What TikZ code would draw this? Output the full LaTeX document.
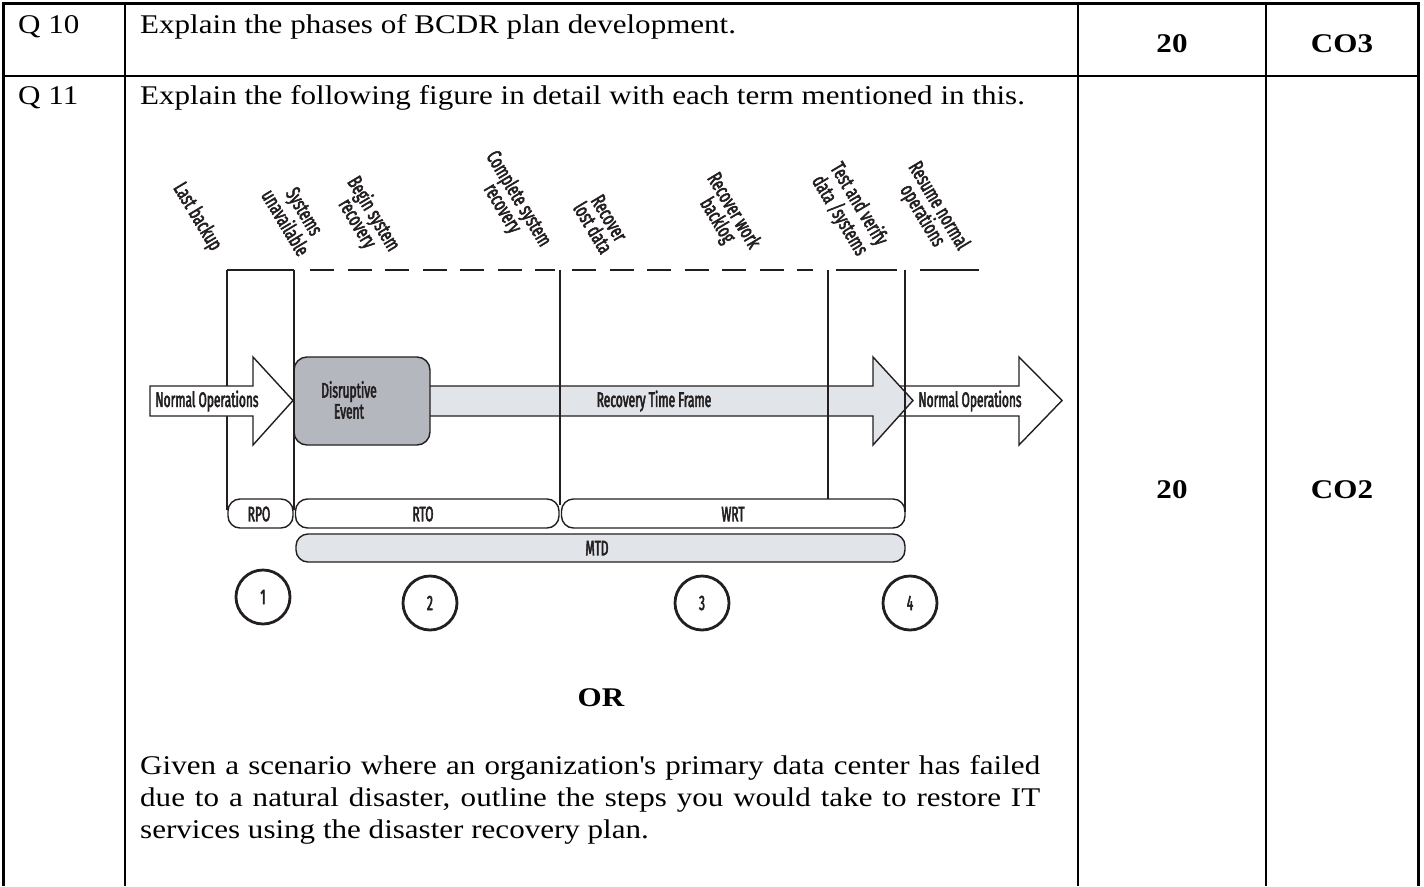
\documentclass[tikz,border=0pt]{standalone}
\usepackage{fontspec}
\setmainfont{Liberation Serif}[FakeStretch=1.15]
\newfontfamily\figsans{Fira Sans}[FakeStretch=0.57,FakeBold=2.5]
\newfontfamily\figsanstilt{Fira Sans}[FakeStretch=0.66,FakeBold=2.5]
\definecolor{figdark}{HTML}{231F20}
\definecolor{evtgray}{HTML}{B4B7BD}
\definecolor{flowgray}{HTML}{E1E4E8}

\tikzset{
  tabrule/.style={line width=2.7pt, black},
  qtext/.style={anchor=base west, inner sep=0pt, font=\fontsize{27}{32}\selectfont},
  qmark/.style={anchor=base, inner sep=0pt, font=\fontsize{27}{32}\selectfont\bfseries},
  pointline/.style={draw=figdark, line width=2.8pt},
  gapline/.style={pointline, dash pattern=on 24pt off 13.5pt},
  outline/.style={draw=figdark, line width=1.4pt, line join=miter},
  spanbox/.style={outline, rounded corners=12pt},
  pointlabel/.style={rotate=-59, align=center, inner sep=0pt, text=figdark, font=\figsanstilt\fontsize{21}{19}\selectfont},
  flowlabel/.style={inner sep=0pt, align=center, text=figdark, font=\figsans\fontsize{21}{21}\selectfont},
  phase/.style={circle, draw=figdark, line width=2.8pt, minimum size=54pt, inner sep=0pt, text=figdark, font=\figsans\fontsize{21}{21}\selectfont},
}

\begin{document}
\begin{tikzpicture}[x=1pt,y=-1pt]
\useasboundingbox (0,0) rectangle (1424,886);

% table
\draw[tabrule] (2,3.5) -- (1420,3.5);
\draw[tabrule] (2,76) -- (1420,76);
\foreach \cx in {3.5,125,1078,1266,1418.5}
  \draw[tabrule] (\cx,2.2) -- (\cx,886);

\node[qtext] (q10) at (18,33) {Q 10};
\node[qtext] (q10text) at (140,33) {Explain the phases of BCDR plan development.};
\node[qmark] (q10marks) at (1172,52) {20};
\node[qmark] (q10co) at (1342,52) {CO3};
\node[qtext] (q11) at (18,104) {Q 11};
\node[qtext] (q11text) at (140,104) {Explain the following figure in detail with each term mentioned in this.};
\node[qmark] (q11marks) at (1172,498) {20};
\node[qmark] (q11co) at (1342,498) {CO2};
\node[qmark] (ortext) at (601,706) {OR};
\node[qtext, text width=900pt, align=justify] (scenario) at (140,774)
  {Given a scenario where an organization\textquotesingle s primary data center has failed\linebreak
   due to a natural disaster, outline the steps you would take to restore IT\linebreak
   services using the disaster recovery plan.};

% time line
\draw[pointline] (227,270) -- (294,270);
\draw[gapline] (310,270) -- (555,270);
\draw[gapline] (572,270) -- (813,270);
\draw[pointline] (836,270) -- (897,270);
\draw[pointline] (920,270) -- (979,270);

\node[pointlabel] (lastbk) at (197,217) {Last backup};
\node[pointlabel] (sysdown) at (295,217) {Systems\\unavailable};
\node[pointlabel] (beginrec) at (365,219) {Begin system\\recovery};
\node[pointlabel] (donerec) at (510,204) {Complete system\\recovery};
\node[pointlabel] (lostdata) at (601,223) {Recover\\lost data};
\node[pointlabel] (backlog) at (725,216) {Recover work\\backlog};
\node[pointlabel] (verify) at (849,210) {Test and verify\\data /systems};
\node[pointlabel] (resume) at (930,211) {Resume normal\\operations};

% flow arrows
\draw[outline, fill=white] (890,386) -- (1019,386) -- (1019,357) -- (1062,400.5)
  -- (1019,445) -- (1019,416) -- (890,416) -- cycle;
\draw[outline, fill=flowgray] (420,386) -- (873,386) -- (873,357) -- (913,400.5)
  -- (873,445) -- (873,416) -- (420,416) -- cycle;
\draw[outline, fill=evtgray, rounded corners=13pt] (294,357) rectangle (430,445);

\draw[pointline] (294,270) -- (294,510);
\draw[pointline] (560,270) -- (560,505);
\draw[pointline] (828,270) -- (828,499);
\draw[pointline] (905,270) -- (905,512);
\draw[pointline] (227,270) -- (227,510);

\draw[outline, fill=white] (150,386) -- (253,386) -- (253,357) -- (293,400.5)
  -- (253,445) -- (253,416) -- (150,416) -- cycle;

\node[flowlabel] (normin) at (207,401) {Normal Operations};
\node[flowlabel] (event) at (349,400) {Disruptive\\Event};
\node[flowlabel] (rtf) at (654,401) {Recovery Time Frame};
\node[flowlabel] (normout) at (970,401) {Normal Operations};

% spans
\draw[spanbox] (228,499) rectangle (293,528);
\draw[spanbox] (295.5,499) rectangle (559,528);
\draw[spanbox] (561.5,499) rectangle (905,528);
\draw[spanbox, fill=flowgray] (296,534) rectangle (905,562);
\node[flowlabel] (rpo) at (259,514) {RPO};
\node[flowlabel] (rto) at (423,514) {RTO};
\node[flowlabel] (wrt) at (733,514) {WRT};
\node[flowlabel] (mtd) at (597,548) {MTD};

\node[phase] (ph1) at (263,597) {1};
\node[phase] (ph2) at (430,603) {2};
\node[phase] (ph3) at (702,603) {3};
\node[phase] (ph4) at (910,603) {4};
\end{tikzpicture}
\end{document}
